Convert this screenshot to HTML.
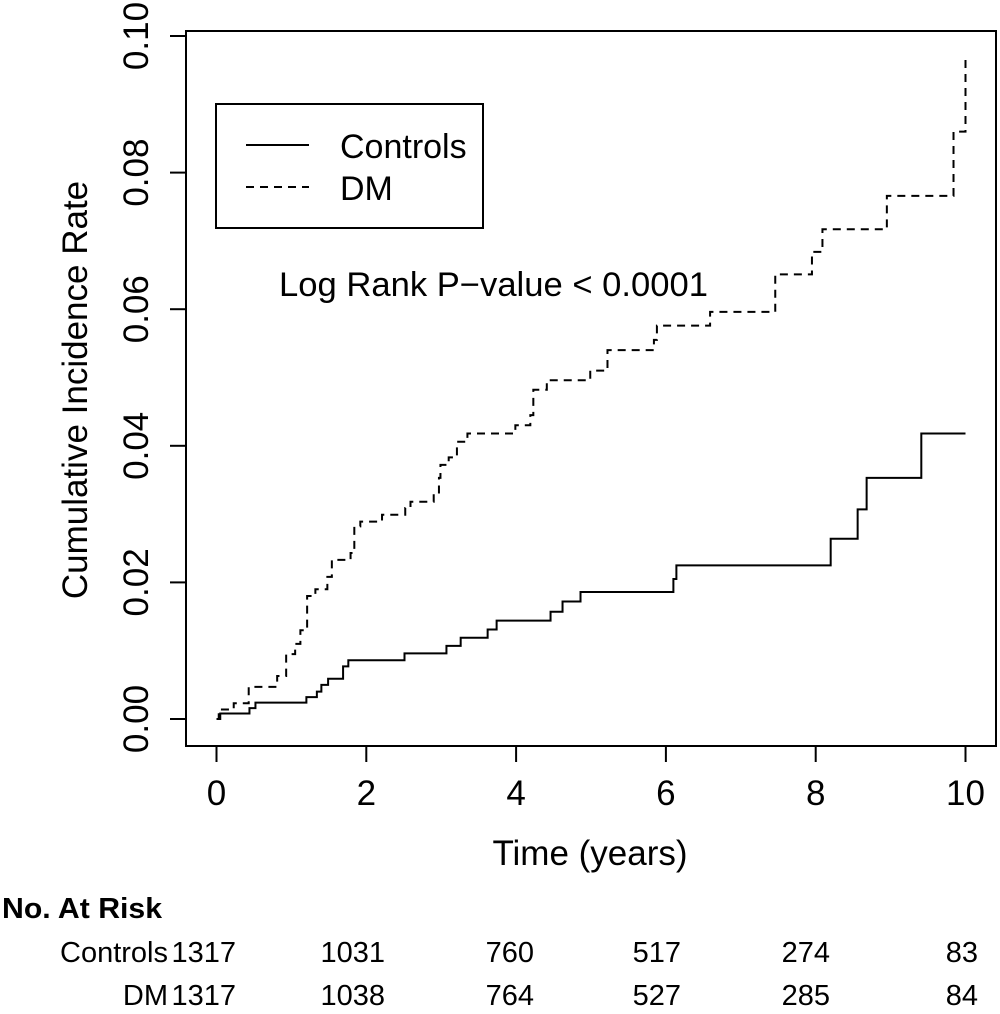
<!DOCTYPE html>
<html><head><meta charset="utf-8"><style>
body{margin:0;background:#fff;}
svg text{font-family:"Liberation Sans",sans-serif;fill:#000;}
</style></head><body>
<svg id="chart" width="1000" height="1009" xmlns="http://www.w3.org/2000/svg">
<rect x="186" y="31" width="810" height="715" fill="none" stroke="#000" stroke-width="2"/>
<g id="axes"></g>
<g id="series"></g>
<g>
<rect x="216" y="104" width="267" height="124" fill="none" stroke="#000" stroke-width="2"/>
<line x1="246" y1="145" x2="309" y2="145" stroke="#000" stroke-width="2"/>
<line x1="246" y1="187" x2="309" y2="187" stroke="#000" stroke-width="2" stroke-dasharray="8,6"/>
<text x="340" y="158" font-size="34">Controls</text>
<text x="340" y="200" font-size="34">DM</text>
</g>
<text x="279" y="296" font-size="34" textLength="429" lengthAdjust="spacingAndGlyphs">Log Rank P−value &lt; 0.0001</text>
<text x="590" y="865" font-size="35" text-anchor="middle">Time (years)</text>
<text transform="translate(87,390) rotate(-90)" font-size="35" text-anchor="middle">Cumulative Incidence Rate</text>
<text x="2" y="918" font-size="29" font-weight="bold" textLength="160" lengthAdjust="spacingAndGlyphs">No. At Risk</text>
<g id="risk"></g>
</svg>
<script>
const xTicks=[0,2,4,6,8,10];
const yTicks=[0,0.02,0.04,0.06,0.08,0.10];
const yTickLabels=["0.00","0.02","0.04","0.06","0.08","0.10"];
const ctrlT=[0,0.05,0.44,0.52,1.2,1.34,1.40,1.49,1.69,1.76,2.51,3.07,3.26,3.62,3.74,4.46,4.62,4.86,6.10,6.14,8.20,8.56,8.68,9.41,10.0];
const ctrlV=[0,0.0008,0.0016,0.0024,0.0032,0.004,0.005,0.0059,0.0077,0.0086,0.0096,0.0107,0.0119,0.0131,0.0144,0.0157,0.0172,0.0186,0.0205,0.0225,0.0264,0.0307,0.0353,0.0418,0.0418];
const dmT=[0,0.03,0.23,0.43,0.81,0.93,1.05,1.12,1.21,1.32,1.48,1.54,1.79,1.84,1.92,2.21,2.52,2.59,2.90,2.97,2.99,3.10,3.21,3.35,3.99,4.19,4.23,4.41,4.99,5.22,5.84,5.88,6.59,7.46,7.95,8.09,8.95,9.84,10.0];
const dmV=[0,0.0014,0.0023,0.0047,0.0063,0.0095,0.011,0.013,0.018,0.019,0.0208,0.0233,0.0243,0.0282,0.0289,0.0299,0.0309,0.0318,0.033,0.0353,0.0372,0.0383,0.0406,0.0418,0.043,0.0445,0.0482,0.0496,0.051,0.054,0.0555,0.0576,0.0596,0.0651,0.0684,0.0717,0.0766,0.086,0.0969];
const riskGroups=["Controls","DM"];
const riskControls=[1317,1031,760,517,274,83];
const riskDM=[1317,1038,764,527,285,84];
const NS="http://www.w3.org/2000/svg";
const xs=t=>216.5+74.9*t;
const ys=v=>719-6830*v;
function mk(tag,attrs,parent){const e=document.createElementNS(NS,tag);for(const k in attrs)e.setAttribute(k,attrs[k]);parent.appendChild(e);return e;}
const axes=document.getElementById('axes');
xTicks.forEach(t=>{
 const l=mk('line',{x1:xs(t),x2:xs(t),y1:746,y2:762,stroke:'#000','stroke-width':2},axes);
 
 
 const tx=mk('text',{x:xs(t),y:805,'font-size':35,'text-anchor':'middle'},axes);
 tx.textContent=t;
 
 
});
yTicks.forEach((v,i)=>{
 const l=mk('line',{x1:170,x2:186,y1:ys(v),y2:ys(v),stroke:'#000','stroke-width':2},axes);
 
 
 const tx=mk('text',{transform:`translate(148,${ys(v)}) rotate(-90)`,'font-size':35,'text-anchor':'middle'},axes);
 tx.textContent=yTickLabels[i];
 
 
});
function stepPath(T,V){let d=`M${xs(T[0])},${ys(V[0])}`;for(let i=1;i<T.length;i++){d+=` H${xs(T[i])} V${ys(V[i])}`;}return d;}
const ser=document.getElementById('series');
const p1=mk('path',{d:stepPath(ctrlT,ctrlV),fill:'none',stroke:'#000','stroke-width':2},ser);


const p2=mk('path',{d:stepPath(dmT,dmV),fill:'none',stroke:'#000','stroke-width':2,'stroke-dasharray':'8,6'},ser);


const risk=document.getElementById('risk');
const colRight=[236,385,534,681,830,978];
[riskControls,riskDM].forEach((row,r)=>{
 const y=962+r*43;
 const lab=mk('text',{x:colRight[0]-68,y:y,'font-size':29,'text-anchor':'end'},risk);
 lab.textContent=riskGroups[r];
 
 
 row.forEach((n,i)=>{
  const tx=mk('text',{x:colRight[i],y:y,'font-size':29,'text-anchor':'end'},risk);
  tx.textContent=n;
  
  
 });
});
</script>
</body></html>
